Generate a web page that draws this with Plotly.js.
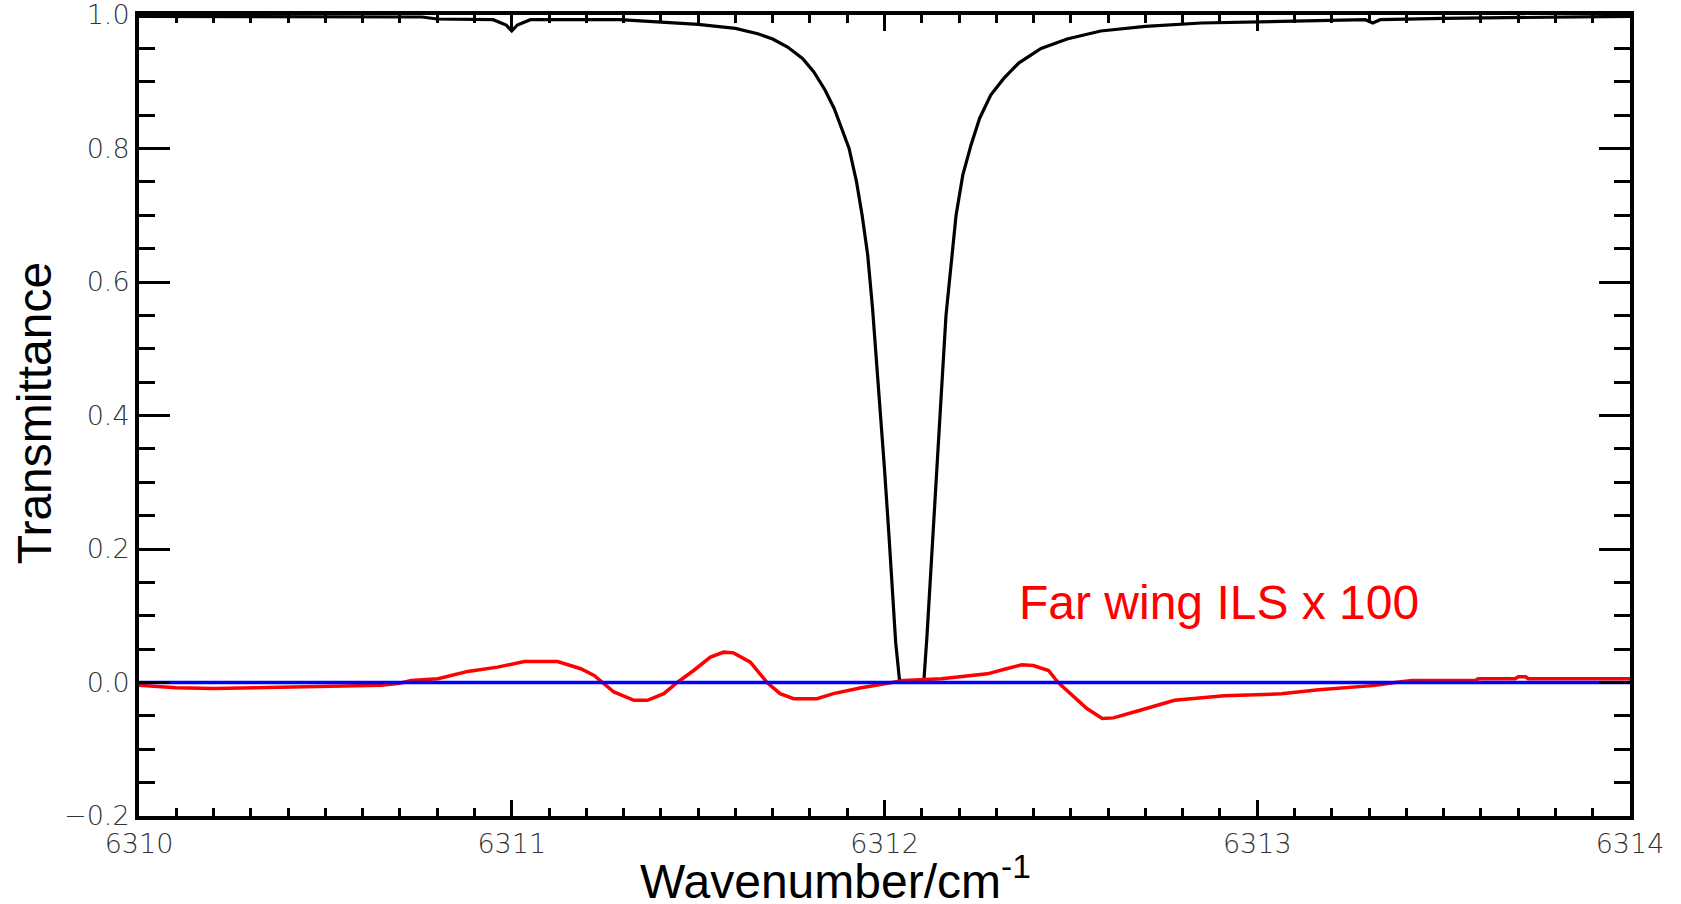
<!DOCTYPE html>
<html>
<head>
<meta charset="utf-8">
<script src="https://cdn.plot.ly/plotly-3.0.1.min.js"></script>
<style>
  html, body { margin: 0; padding: 0; background: #fff; }
  #plot { width: 1681px; height: 904px; }
</style>
</head>
<body>
<div id="plot"></div>
<script>
// Transmittance spectrum around the 6312 cm-1 line
const transWavenumber = [
  6310.00, 6310.30, 6310.60, 6310.76, 6310.80, 6310.95, 6310.985, 6311.00, 6311.015, 6311.05,
  6311.29, 6311.38, 6311.45, 6311.50, 6311.55, 6311.60, 6311.66, 6311.70, 6311.74, 6311.78,
  6311.81, 6311.84, 6311.865, 6311.885, 6311.905, 6311.925, 6311.940, 6311.955, 6311.968, 6311.980,
  6311.990, 6312.000, 6312.012, 6312.022, 6312.030, 6312.040, 6312.050, 6312.098, 6312.106, 6312.114,
  6312.125, 6312.135, 6312.150, 6312.165, 6312.180, 6312.192, 6312.210, 6312.232, 6312.255, 6312.285,
  6312.320, 6312.360, 6312.420, 6312.490, 6312.580, 6312.700, 6312.850, 6313.000, 6313.200, 6313.290,
  6313.310, 6313.330, 6313.500, 6313.800, 6314.000
];
const transmittance = [
  0.998, 0.998, 0.997, 0.997, 0.994, 0.993, 0.985, 0.976, 0.985, 0.993,
  0.993, 0.990, 0.988, 0.986, 0.983, 0.980, 0.972, 0.964, 0.952, 0.935,
  0.915, 0.888, 0.860, 0.830, 0.800, 0.750, 0.700, 0.640, 0.560, 0.470,
  0.400, 0.320, 0.220, 0.130, 0.060, 0.005, 0.000, 0.000, 0.005, 0.070,
  0.180, 0.270, 0.410, 0.550, 0.640, 0.700, 0.760, 0.805, 0.845, 0.880,
  0.905, 0.928, 0.950, 0.964, 0.976, 0.983, 0.988, 0.990, 0.992, 0.993,
  0.988, 0.993, 0.995, 0.997, 0.998
];

// Far-wing instrument line shape, scaled by 100
const ilsWavenumber = [
  6310.00, 6310.10, 6310.20, 6310.30, 6310.45, 6310.55, 6310.65, 6310.70, 6310.730, 6310.802,
  6310.882, 6310.962, 6311.034, 6311.123, 6311.185, 6311.221, 6311.243, 6311.274, 6311.328, 6311.364,
  6311.408, 6311.444, 6311.488, 6311.533, 6311.569, 6311.595, 6311.640, 6311.685, 6311.720, 6311.756,
  6311.819, 6311.863, 6311.934, 6311.988, 6312.051, 6312.153, 6312.225, 6312.276, 6312.327, 6312.368,
  6312.399, 6312.440, 6312.466, 6312.502, 6312.543, 6312.584, 6312.614, 6312.686, 6312.778, 6312.911,
  6313.065, 6313.165, 6313.254, 6313.317, 6313.370, 6313.414, 6313.585, 6313.593, 6313.692, 6313.700,
  6313.720, 6313.727, 6314.00
];
const ilsValue = [
  -0.004, -0.008, -0.009, -0.008, -0.007, -0.005, -0.004, -0.001, 0.003, 0.0057,
  0.0166, 0.023, 0.0315, 0.0315, 0.0206, 0.0106, 0.000, -0.0142, -0.0267, -0.0267,
  -0.0167, 0.000, 0.018, 0.038, 0.0455, 0.0444, 0.0305, 0.000, -0.0167, -0.0242,
  -0.0242, -0.0167, -0.0082, -0.0033, 0.003, 0.0057, 0.0097, 0.013, 0.0206, 0.0265,
  0.0255, 0.018, 0.000, -0.019, -0.039, -0.054, -0.053, -0.0415, -0.0267, -0.020,
  -0.017, -0.011, -0.0067, -0.0043, 0.000, 0.003, 0.003, 0.0057, 0.0057, 0.0086,
  0.0086, 0.0057, 0.0057
];

// Zero reference
const zeroWavenumber = [6310, 6314];
const zeroValue = [0, 0];

// Axis tick values and labels
const xTickValues = [6310, 6311, 6312, 6313, 6314];
const xTickLabels = ['6310', '6311', '6312', '6313', '6314'];
const yTickValues = [-0.2, 0.0, 0.2, 0.4, 0.6, 0.8, 1.0];
const yTickLabels = ['\u22120.2', '0.0', '0.2', '0.4', '0.6', '0.8', '1.0'];

const ilsLabel = 'Far wing ILS x 100';
const xTitle = 'Wavenumber/cm<sup>-1</sup>';
const yTitle = 'Transmittance';

const tickFont = { family: 'DejaVu Sans', size: 27, color: '#333', weight: 200 };
const titleFont = { family: 'Liberation Sans, Arial, sans-serif', size: 48, color: '#000' };

const traces = [
  { x: transWavenumber, y: transmittance, type: 'scatter', mode: 'lines',
    line: { color: '#000000', width: 3.2 }, hoverinfo: 'skip' },
  { x: ilsWavenumber, y: ilsValue, type: 'scatter', mode: 'lines',
    line: { color: '#ff0000', width: 3.5 }, hoverinfo: 'skip' },
  { x: zeroWavenumber, y: zeroValue, type: 'scatter', mode: 'lines',
    line: { color: '#0000ff', width: 3.5 }, hoverinfo: 'skip' }
];

const layout = {
  width: 1681, height: 904,
  margin: { l: 139, r: 51, t: 15, b: 88, pad: 0 },
  paper_bgcolor: '#ffffff', plot_bgcolor: '#ffffff',
  showlegend: false,
  xaxis: {
    range: [6310, 6314], tickmode: 'array', tickvals: xTickValues, ticktext: xTickLabels,
    ticks: 'inside', ticklen: 16, tickwidth: 3, tickcolor: '#000',
    showline: true, linewidth: 4, linecolor: '#000', mirror: 'allticks',
    showgrid: false, zeroline: false,
    minor: { dtick: 0.1, tick0: 6310, ticks: 'inside', ticklen: 8, tickwidth: 3, tickcolor: '#000', showgrid: false },
    tickfont: tickFont, ticklabelstandoff: 1, ticklabeloverflow: 'allow'
  },
  yaxis: {
    range: [-0.2, 1.0], tickmode: 'array', tickvals: yTickValues, ticktext: yTickLabels,
    ticks: 'inside', ticklen: 31, tickwidth: 3, tickcolor: '#000',
    showline: true, linewidth: 4, linecolor: '#000', mirror: 'allticks',
    showgrid: false, zeroline: false,
    minor: { dtick: 0.05, tick0: -0.2, ticks: 'inside', ticklen: 16, tickwidth: 3, tickcolor: '#000', showgrid: false },
    tickfont: tickFont, ticklabelstandoff: 0, ticklabeloverflow: 'allow'
  },
  annotations: [
    { text: yTitle, xref: 'paper', yref: 'paper', x: -0.0704, y: 0.503, textangle: -90,
      xanchor: 'center', yanchor: 'middle', showarrow: false, font: titleFont },
    { text: xTitle, xref: 'paper', yref: 'paper', x: 0.467, y: -0.038,
      xanchor: 'center', yanchor: 'top', showarrow: false, font: titleFont },
    { text: ilsLabel, xref: 'x', yref: 'y', x: 6312.355, y: 0.12,
      xanchor: 'left', yanchor: 'middle', showarrow: false,
      font: { family: 'Liberation Sans, Arial, sans-serif', size: 48, color: '#ff0000' } }
  ]
};

Plotly.newPlot('plot', traces, layout, { displayModeBar: false, staticPlot: true });
</script>
</body>
</html>
